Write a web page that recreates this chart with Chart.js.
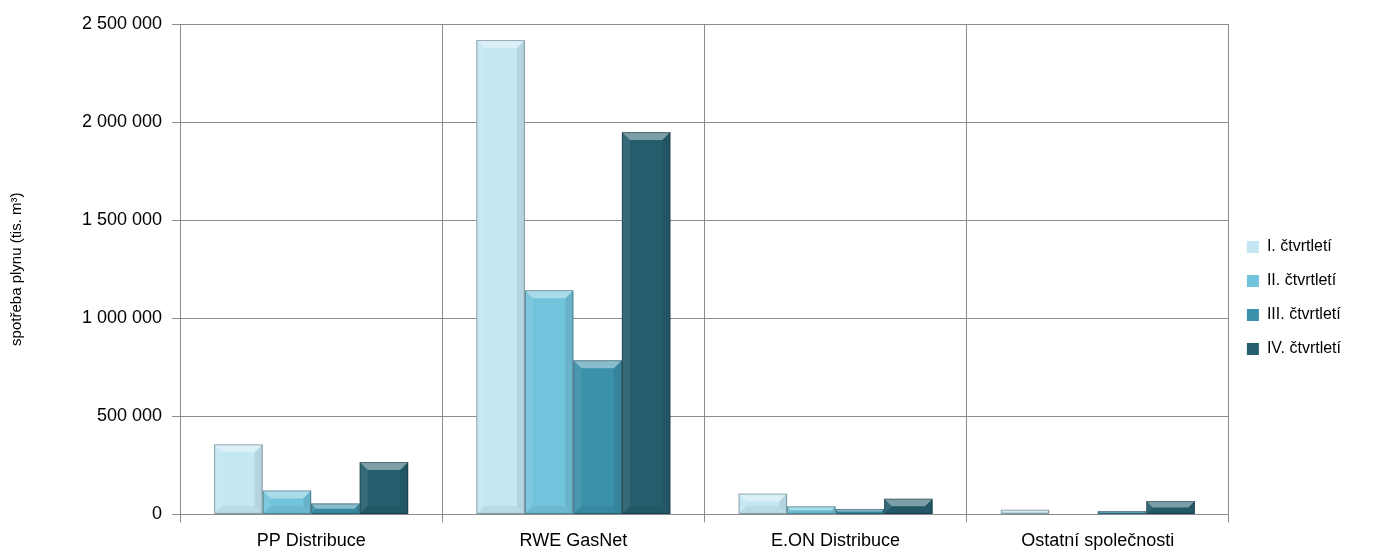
<!DOCTYPE html>
<html>
<head>
<meta charset="utf-8">
<style>
  html, body { margin: 0; padding: 0; background: #fff; }
  #wrap { width: 1381px; height: 550px; }
</style>
</head>
<body>
<div id="wrap"><canvas id="chart" width="1381" height="550"></canvas></div>

<script src="https://cdn.jsdelivr.net/npm/chart.js"></script>
<script>
/* ---- data (tis. m3) ---- */
const categories = ['PP Distribuce', 'RWE GasNet', 'E.ON Distribuce', 'Ostatní společnosti'];
const seriesNames = ['I. čtvrtletí', 'II. čtvrtletí', 'III. čtvrtletí', 'IV. čtvrtletí'];
const q1 = [357000, 2418000, 106000, 24000];
const q2 = [122000, 1143000, 41000, 2000];
const q3 = [56000, 786000, 27000, 17000];
const q4 = [267000, 1949000, 80000, 68000];
const colors = ['#c3e7f3', '#72c4dc', '#3b90aa', '#255e6d'];

function fmt(v) {
  return String(v).replace(/\B(?=(\d{3})+(?!\d))/g, ' ');
}

// light bevel on every bar, like the office chart style
const bevel = {
  id: 'bevel',
  afterDatasetsDraw(chart) {
    const ctx = chart.ctx;
    chart.data.datasets.forEach((ds, i) => {
      chart.getDatasetMeta(i).data.forEach(bar => {
        const l = bar.x - bar.width / 2, r = bar.x + bar.width / 2;
        const t = bar.y, b = bar.base;
        const h = b - t;
        if (h < 1) return;
        const s = Math.min(8, h / 2);
        ctx.save();
        // top
        ctx.fillStyle = 'rgba(255,255,255,0.4)';
        ctx.beginPath();
        ctx.moveTo(l, t); ctx.lineTo(r, t); ctx.lineTo(r - s, t + s); ctx.lineTo(l + s, t + s);
        ctx.closePath(); ctx.fill();
        // left
        ctx.fillStyle = 'rgba(255,255,255,0.08)';
        ctx.beginPath();
        ctx.moveTo(l, t); ctx.lineTo(l + s, t + s); ctx.lineTo(l + s, b - s); ctx.lineTo(l, b);
        ctx.closePath(); ctx.fill();
        // right
        ctx.fillStyle = 'rgba(0,0,0,0.08)';
        ctx.beginPath();
        ctx.moveTo(r, t); ctx.lineTo(r - s, t + s); ctx.lineTo(r - s, b - s); ctx.lineTo(r, b);
        ctx.closePath(); ctx.fill();
        // bottom
        ctx.fillStyle = 'rgba(0,0,0,0.05)';
        ctx.beginPath();
        ctx.moveTo(l, b); ctx.lineTo(l + s, b - s); ctx.lineTo(r - s, b - s); ctx.lineTo(r, b);
        ctx.closePath(); ctx.fill();
        ctx.strokeStyle = 'rgba(0,0,0,0.3)';
        ctx.lineWidth = 1;
        ctx.strokeRect(l + 0.5, t + 0.5, r - l - 1, h - 1);
        ctx.restore();
      });
    });
  }
};

const ctx = document.getElementById('chart').getContext('2d');
new Chart(ctx, {
  type: 'bar',
  data: {
    labels: categories,
    datasets: [q1, q2, q3, q4].map((d, i) => ({
      label: seriesNames[i],
      data: d,
      backgroundColor: colors[i],
      borderWidth: 0,
      categoryPercentage: 0.74,
      barPercentage: 1.0
    }))
  },
  options: {
    responsive: false,
    animation: false,
    layout: { padding: { top: 24, right: 30, left: 4, bottom: -10 } },
    plugins: {
      legend: {
        position: 'right',
        align: 'center',
        title: {
          display: true,
          text: ' ',
          font: { size: 10 },
          padding: 0
        },
        labels: {
          color: '#000',
          font: { family: 'Liberation Sans, Arial, sans-serif', size: 16 },
          boxWidth: 12,
          boxHeight: 12,
          padding: 18
        }
      },
      tooltip: { enabled: false }
    },
    scales: {
      x: {
        grid: { color: '#8c8c8c', lineWidth: 1, offset: true, tickLength: 8 },
        border: { color: '#8c8c8c' },
        ticks: {
          color: '#000',
          font: { family: 'Liberation Sans, Arial, sans-serif', size: 18 },
          maxRotation: 0,
          padding: 8
        }
      },
      y: {
        min: 0,
        max: 2500000,
        grid: { color: '#8c8c8c', lineWidth: 1, tickLength: 8 },
        border: { color: '#8c8c8c' },
        ticks: {
          stepSize: 500000,
          color: '#000',
          font: { family: 'Liberation Sans, Arial, sans-serif', size: 18 },
          padding: 10,
          callback: v => fmt(v)
        },
        title: {
          display: true,
          text: 'spotřeba plynu (tis. m³)',
          color: '#000',
          font: { family: 'Liberation Sans, Arial, sans-serif', size: 15 },
          padding: { bottom: 46 }
        }
      }
    }
  },
  plugins: [bevel]
});
</script>
</body>
</html>
